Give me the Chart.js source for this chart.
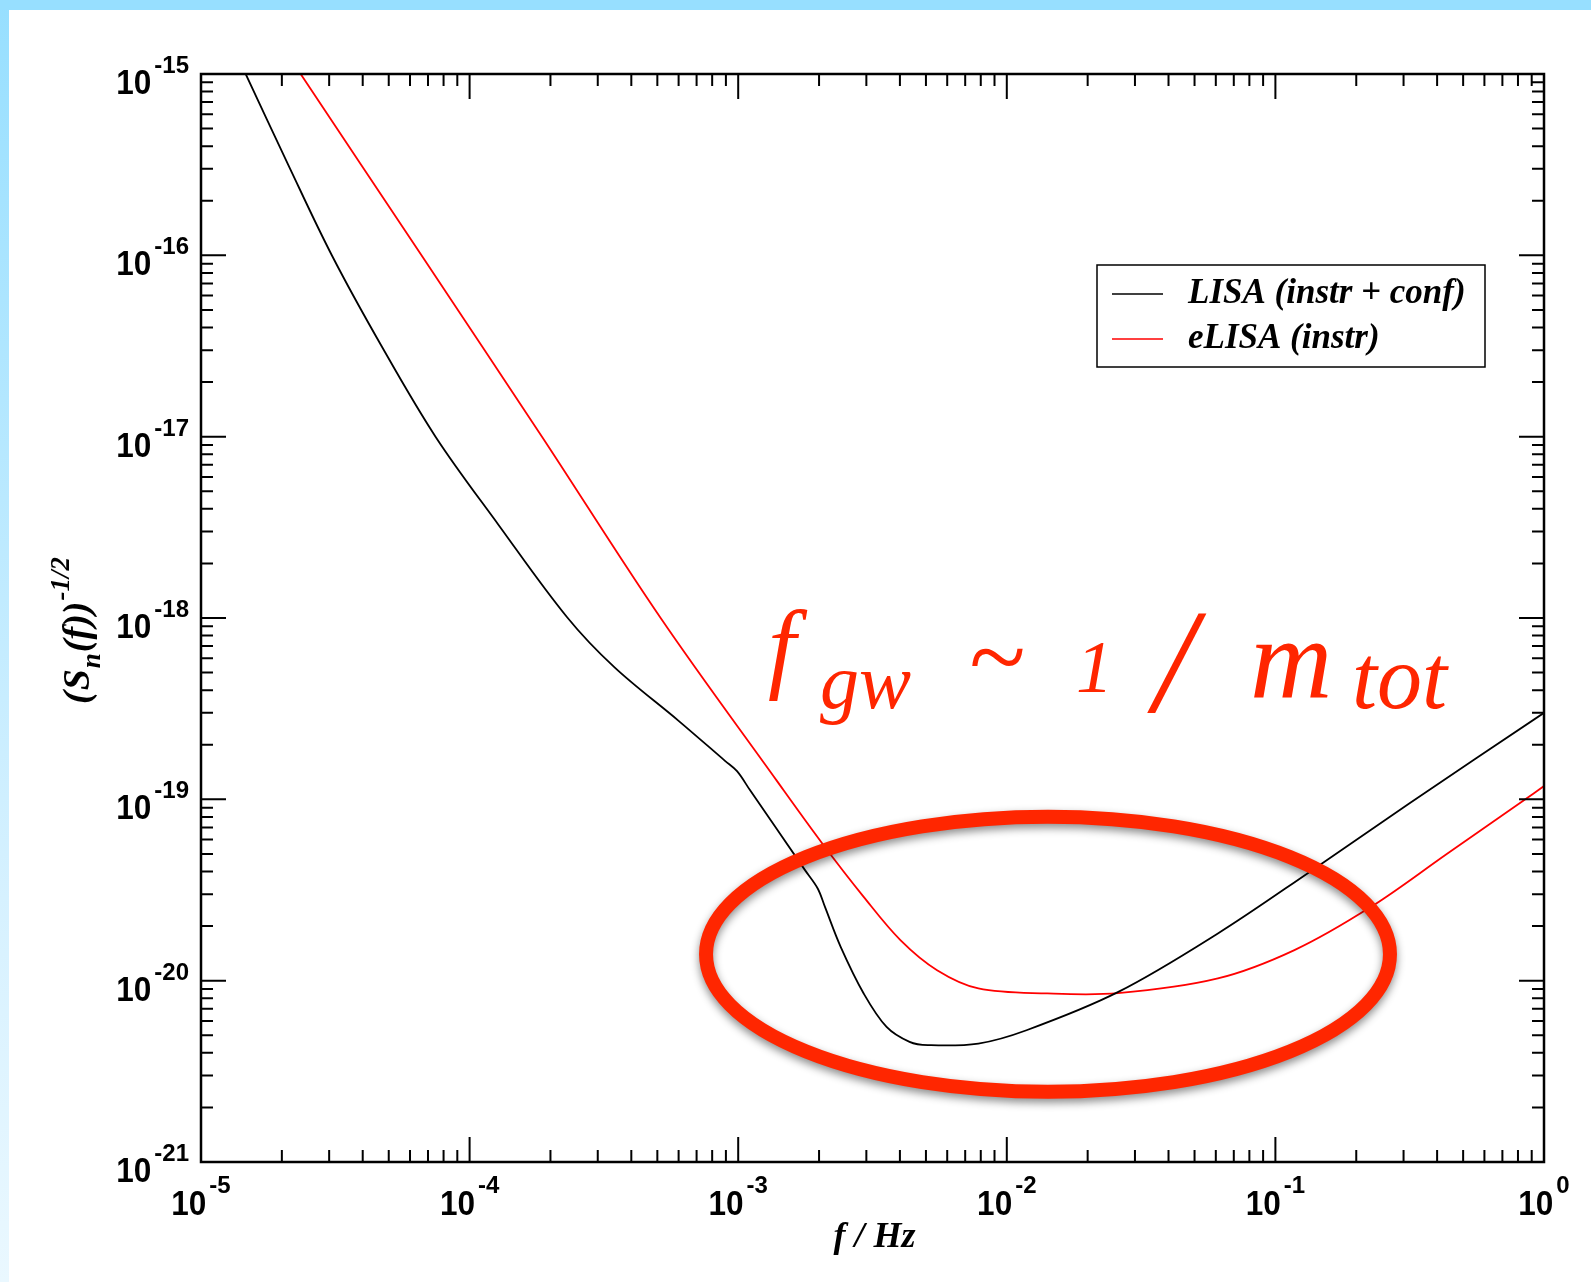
<!DOCTYPE html>
<html>
<head>
<meta charset="utf-8">
<title>LISA / eLISA sensitivity</title>
<script src="https://cdn.jsdelivr.net/npm/chart.js@4.4.0/dist/chart.umd.min.js"></script>
<style>
  html, body { margin: 0; padding: 0; background: #fff; overflow: hidden; }
  #wrap { position: absolute; left: 0; top: 0; width: 1591px; height: 1282px; }
</style>
</head>
<body>
<div id="wrap"><canvas id="sensChart"></canvas></div>
<script>
// data: frequency in Hz, (S_n(f))^-1/2
var lisaFreq  = [1.467e-5, 2.132e-5, 3.076e-5, 4.694e-5, 7.477e-5, 1.278e-4, 2.307e-4, 3.457e-4, 6.0e-4, 8.93e-4,
                 9.9e-4, 1.106e-3, 1.773e-3, 1.977e-3, 2.104e-3, 2.407e-3, 2.932e-3, 3.568e-3, 4.345e-3, 5.088e-3,
                 7.835e-3, 1.184e-2, 2.602e-2, 6.107e-2, 0.1341, 0.3149, 1.0];
var lisaNoise = [1.0e-15, 3.065e-16, 9.95e-17, 3.173e-17, 9.97e-18, 3.281e-18, 1.01e-18, 5.36e-19, 2.71e-19, 1.631e-19,
                 1.43e-19, 1.125e-19, 4.07e-20, 3.224e-20, 2.55e-20, 1.536e-20, 8.50e-21, 5.56e-21, 4.60e-21, 4.41e-21,
                 4.50e-21, 5.33e-21, 8.67e-21, 1.821e-20, 3.98e-20, 9.49e-20, 3.0e-19];

var elisaFreq  = [2.350e-5, 6.620e-5, 1.860e-4, 5.144e-4, 1.387e-3, 2.056e-3, 2.932e-3, 4.017e-3, 5.50e-3, 7.837e-3,
                  1.415e-2, 2.594e-2, 6.107e-2, 0.1177, 0.2269, 0.4372, 0.9148, 1.0];
var elisaNoise = [1.0e-15, 1.0e-16, 1.0e-17, 1.0e-18, 1.276e-19, 5.71e-20, 2.898e-20, 1.673e-20, 1.142e-20, 9.06e-21,
                  8.50e-21, 8.53e-21, 1.028e-20, 1.473e-20, 2.553e-20, 5.03e-20, 1.078e-19, 1.183e-19];

var seriesNames = ['LISA (instr + conf)', 'eLISA (instr)'];
var seriesColors = ['#000000', '#ff0000'];

// axis decades (exponents) and minor multipliers
var xExponents = [-5, -4, -3, -2, -1, 0];
var yExponents = [-21, -20, -19, -18, -17, -16, -15];
var minorSteps = [2, 3, 4, 5, 6, 7, 8, 9];

// hand-drawn annotation: ellipse bounds in data units
var ringFreq  = [7.59e-4, 0.267];
var ringNoise = [2.44e-21, 8.02e-20];

function toPoints(xs, ys) {
    var pts = [];
    for (var i = 0; i < xs.length; i++) pts.push({ x: xs[i], y: ys[i] });
    return pts;
}

var INK = '#000';
var HAND = '#ff2600';

// draws "10" with a superscript exponent
function drawPower(ctx, exp, x, y, align, supRaise) {
    ctx.save();
    ctx.fillStyle = INK;
    ctx.textBaseline = 'alphabetic';
    ctx.textAlign = 'left';
    ctx.font = 'bold 35px "Liberation Sans", Arial, sans-serif';
    var squeeze = 0.9;
    var wMain = ctx.measureText('10').width * squeeze;
    ctx.font = 'bold 24px "Liberation Sans", Arial, sans-serif';
    var sup = String(exp);
    var wSup = ctx.measureText(sup).width;
    var gap = 3;
    var total = wMain + gap + wSup;
    var left = align === 'right' ? x - total : x - total / 2;

    ctx.save();
    ctx.translate(left, y);
    ctx.scale(squeeze, 1);
    ctx.font = 'bold 35px "Liberation Sans", Arial, sans-serif';
    ctx.fillText('10', 0, 0);
    ctx.restore();

    ctx.font = 'bold 24px "Liberation Sans", Arial, sans-serif';
    ctx.fillText(sup, left + wMain + gap, y - supRaise);
    ctx.restore();
}

var framePlugin = {
    id: 'framePlugin',
    beforeDraw: function(chart) {
        var ctx = chart.ctx;
        var W = chart.width, H = chart.height;
        ctx.save();
        ctx.fillStyle = '#ffffff';
        ctx.fillRect(0, 0, W, H);
        var g = ctx.createLinearGradient(0, 0, 0, H);
        g.addColorStop(0, '#97dfff');
        g.addColorStop(0.7, '#d6f1ff');
        g.addColorStop(1, '#eaf8ff');
        ctx.fillStyle = g;
        ctx.fillRect(0, 0, 9, H);
        ctx.fillStyle = '#97dfff';
        ctx.fillRect(0, 0, W, 10);
        ctx.restore();
    },
    afterDatasetsDraw: function(chart) {
        var ctx = chart.ctx;
        var area = chart.chartArea;
        var xs = chart.scales.x, ys = chart.scales.y;

        ctx.save();
        // frame
        ctx.strokeStyle = INK;
        ctx.lineWidth = 2.5;
        ctx.strokeRect(area.left, area.top, area.right - area.left, area.bottom - area.top);

        // ticks on all four sides, pointing inwards
        ctx.lineWidth = 2;
        ctx.beginPath();
        xExponents.forEach(function(e, i) {
            var px = xs.getPixelForValue(Math.pow(10, e));
            ctx.moveTo(px, area.bottom); ctx.lineTo(px, area.bottom - 25);
            ctx.moveTo(px, area.top); ctx.lineTo(px, area.top + 25);
            if (i < xExponents.length - 1) {
                minorSteps.forEach(function(m) {
                    var p = xs.getPixelForValue(m * Math.pow(10, e));
                    ctx.moveTo(p, area.bottom); ctx.lineTo(p, area.bottom - 12);
                    ctx.moveTo(p, area.top); ctx.lineTo(p, area.top + 12);
                });
            }
        });
        yExponents.forEach(function(e, i) {
            var py = ys.getPixelForValue(Math.pow(10, e));
            ctx.moveTo(area.left, py); ctx.lineTo(area.left + 25, py);
            ctx.moveTo(area.right, py); ctx.lineTo(area.right - 25, py);
            if (i < yExponents.length - 1) {
                minorSteps.forEach(function(m) {
                    var p = ys.getPixelForValue(m * Math.pow(10, e));
                    ctx.moveTo(area.left, p); ctx.lineTo(area.left + 12, p);
                    ctx.moveTo(area.right, p); ctx.lineTo(area.right - 12, p);
                });
            }
        });
        ctx.stroke();

        // tick labels
        xExponents.forEach(function(e) {
            var px = xs.getPixelForValue(Math.pow(10, e));
            drawPower(ctx, e, px, area.bottom + 53, 'center', 22);
        });
        yExponents.forEach(function(e) {
            var py = ys.getPixelForValue(Math.pow(10, e));
            drawPower(ctx, e, area.left - 12, py + 20, 'right', 21);
        });

        // x axis title
        ctx.fillStyle = INK;
        ctx.font = 'bold italic 36px "Liberation Serif", "Times New Roman", serif';
        ctx.textAlign = 'center';
        ctx.fillText('f / Hz', (area.left + area.right) / 2 + 2, 1247);

        // y axis title (S_n(f))^-1/2, rotated
        var mainF = 'bold italic 38px "Liberation Serif", "Times New Roman", serif';
        var subF = 'bold italic 27px "Liberation Serif", "Times New Roman", serif';
        var parts = [['(', mainF, 0], ['S', mainF, 0], ['n', subF, 11], ['(f))', mainF, 0], ['-1/2', subF, -20]];
        ctx.save();
        ctx.translate(89, 630);
        ctx.rotate(-Math.PI / 2);
        ctx.textAlign = 'left';
        var total = 0;
        parts.forEach(function(p) { ctx.font = p[1]; total += ctx.measureText(p[0]).width + 1; });
        var cx = -total / 2;
        parts.forEach(function(p) {
            ctx.font = p[1];
            ctx.fillText(p[0], cx, p[2]);
            cx += ctx.measureText(p[0]).width + 1;
        });
        ctx.restore();

        // legend
        ctx.lineWidth = 1.5;
        ctx.strokeStyle = INK;
        ctx.strokeRect(1097, 265, 388, 102);
        ctx.font = 'bold italic 35px "Liberation Serif", "Times New Roman", serif';
        ctx.textAlign = 'left';
        chart.data.datasets.forEach(function(ds, i) {
            var ly = 294 + i * 45;
            ctx.strokeStyle = ds.borderColor;
            ctx.beginPath();
            ctx.moveTo(1112, ly); ctx.lineTo(1163, ly);
            ctx.stroke();
            ctx.fillStyle = INK;
            ctx.fillText(ds.label, 1188, ly + 9);
        });

        // hand-drawn ring round the bucket
        var l = xs.getPixelForValue(ringFreq[0]), r = xs.getPixelForValue(ringFreq[1]);
        var t = ys.getPixelForValue(ringNoise[1]), b = ys.getPixelForValue(ringNoise[0]);
        ctx.save();
        ctx.shadowColor = 'rgba(0,0,0,0.45)';
        ctx.shadowBlur = 8;
        ctx.shadowOffsetY = 4;
        ctx.strokeStyle = HAND;
        ctx.lineWidth = 14;
        ctx.beginPath();
        ctx.ellipse((l + r) / 2, (t + b) / 2, (r - l) / 2, (b - t) / 2, 0, 0, Math.PI * 2);
        ctx.stroke();
        ctx.restore();

        // handwritten note
        ctx.fillStyle = HAND;
        ctx.textAlign = 'left';
        var hand = '"Liberation Serif", "DejaVu Serif", serif';
        ctx.font = 'italic 100px ' + hand;  ctx.fillText('f', 768, 680);
        ctx.font = 'italic 78px ' + hand;   ctx.fillText('gw', 820, 708);
        ctx.font = 'italic 104px ' + hand;  ctx.fillText('~', 968, 692);
        ctx.font = 'italic 74px ' + hand;   ctx.fillText('1', 1076, 692);
        ctx.font = 'italic 148px ' + hand;  ctx.fillText('/', 1154, 712);
        ctx.font = 'italic 114px ' + hand;  ctx.fillText('m', 1250, 697);
        ctx.font = 'italic 90px ' + hand;   ctx.fillText('tot', 1352, 708);

        ctx.restore();
    }
};

document.addEventListener('DOMContentLoaded', function() {
    var ctx = document.getElementById('sensChart').getContext('2d');

    var sensChart = new Chart(ctx, {
        type: 'line',
        data: {
            datasets: [{
                label: seriesNames[0],
                data: toPoints(lisaFreq, lisaNoise),
                borderColor: seriesColors[0],
                borderWidth: 1.8,
                pointRadius: 0,
                tension: 0.35,
                fill: false
            }, {
                label: seriesNames[1],
                data: toPoints(elisaFreq, elisaNoise),
                borderColor: seriesColors[1],
                borderWidth: 1.8,
                pointRadius: 0,
                tension: 0.35,
                fill: false
            }]
        },
        options: {
            responsive: true,
            maintainAspectRatio: false,
            animation: false,
            layout: { padding: { left: 201, right: 47, top: 74, bottom: 120 } },
            plugins: { legend: { display: false }, tooltip: { enabled: false } },
            scales: {
                x: { type: 'logarithmic', min: 1e-5, max: 1, display: false },
                y: { type: 'logarithmic', min: 1e-21, max: 1e-15, display: false }
            }
        },
        plugins: [framePlugin]
    });
});
</script>
</body>
</html>
